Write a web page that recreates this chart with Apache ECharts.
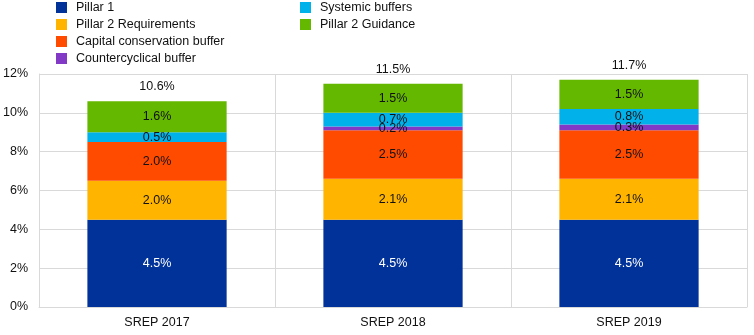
<!DOCTYPE html>
<html>
<head>
<meta charset="utf-8">
<script src="https://cdn.jsdelivr.net/npm/echarts@6/dist/echarts.min.js"></script>
<style>html,body{margin:0;padding:0;background:#fff}#c{width:754px;height:335px}</style>
</head>
<body>
<div id="c"></div>
<script>
var categories = ['SREP 2017', 'SREP 2018', 'SREP 2019'];
var pillar1 = [4.5, 4.5, 4.5];
var pillar2Req = [2.0, 2.1, 2.1];
var capitalConservation = [2.0, 2.5, 2.5];
var countercyclical = [0, 0.2, 0.3];
var systemic = [0.5, 0.7, 0.8];
var pillar2Guidance = [1.6, 1.5, 1.5];
var totals = [10.6, 11.5, 11.7];
var yTicks = [0, 2, 4, 6, 8, 10, 12];

var font = 'Liberation Sans, Arial, sans-serif';
var fs = 12.5;
var txt = '#111111';
function mk(name, data, color, labelColor) {
  return {
    name: name, type: 'bar', stack: 'total', data: data, barWidth: '59%',
    itemStyle: { color: color },
    label: {
      show: true, position: 'inside', color: labelColor, fontFamily: font, fontSize: fs,
      formatter: function (p) { return p.value ? p.value.toFixed(1) + '%' : ''; }
    }
  };
}
var chart = echarts.init(document.getElementById('c'));
chart.setOption({
  animation: false,
  textStyle: { fontFamily: font },
  legend: [{
    orient: 'vertical', left: 56, top: 1, padding: 0, itemWidth: 11, itemHeight: 11, itemGap: 4,
    icon: 'rect', textStyle: { fontSize: fs, color: txt, fontFamily: font, padding: [0, 0, 0, 4] },
    data: ['Pillar 1', 'Pillar 2 Requirements', 'Capital conservation buffer', 'Countercyclical buffer']
  }, {
    orient: 'vertical', left: 300, top: 1, padding: 0, itemWidth: 11, itemHeight: 11, itemGap: 4,
    icon: 'rect', textStyle: { fontSize: fs, color: txt, fontFamily: font, padding: [0, 0, 0, 4] },
    data: ['Systemic buffers', 'Pillar 2 Guidance']
  }],
  grid: { left: 39, right: 7, top: 74, bottom: 28 },
  xAxis: {
    type: 'category', data: categories,
    axisLine: { lineStyle: { color: '#d9d9d9' } },
    axisTick: { show: false },
    axisLabel: { color: txt, fontSize: fs, fontFamily: font, margin: 9 },
    splitLine: { show: true, lineStyle: { color: '#d9d9d9' } }
  },
  yAxis: {
    type: 'value', min: yTicks[0], max: yTicks[yTicks.length - 1], interval: 2,
    axisLine: { show: true, lineStyle: { color: '#d9d9d9' } },
    axisTick: { show: false },
    axisLabel: { color: txt, fontSize: fs, fontFamily: font, margin: 11, formatter: '{value}%' },
    splitLine: { lineStyle: { color: '#d9d9d9' } }
  },
  series: [
    mk('Pillar 1', pillar1, '#003299', '#ffffff'),
    mk('Pillar 2 Requirements', pillar2Req, '#FFB400', txt),
    mk('Capital conservation buffer', capitalConservation, '#FF4B00', txt),
    mk('Countercyclical buffer', countercyclical, '#8139C6', txt),
    mk('Systemic buffers', systemic, '#00B1EA', txt),
    mk('Pillar 2 Guidance', pillar2Guidance, '#65B800', txt),
    {
      name: 'Total', type: 'scatter', data: totals, symbolSize: 0, silent: true,
      itemStyle: { opacity: 1 },
      label: {
        show: true, position: 'top', distance: 8, color: txt, fontSize: fs, fontFamily: font,
        formatter: function (p) { return p.value.toFixed(1) + '%'; }
      }
    }
  ]
});
</script>
</body>
</html>
